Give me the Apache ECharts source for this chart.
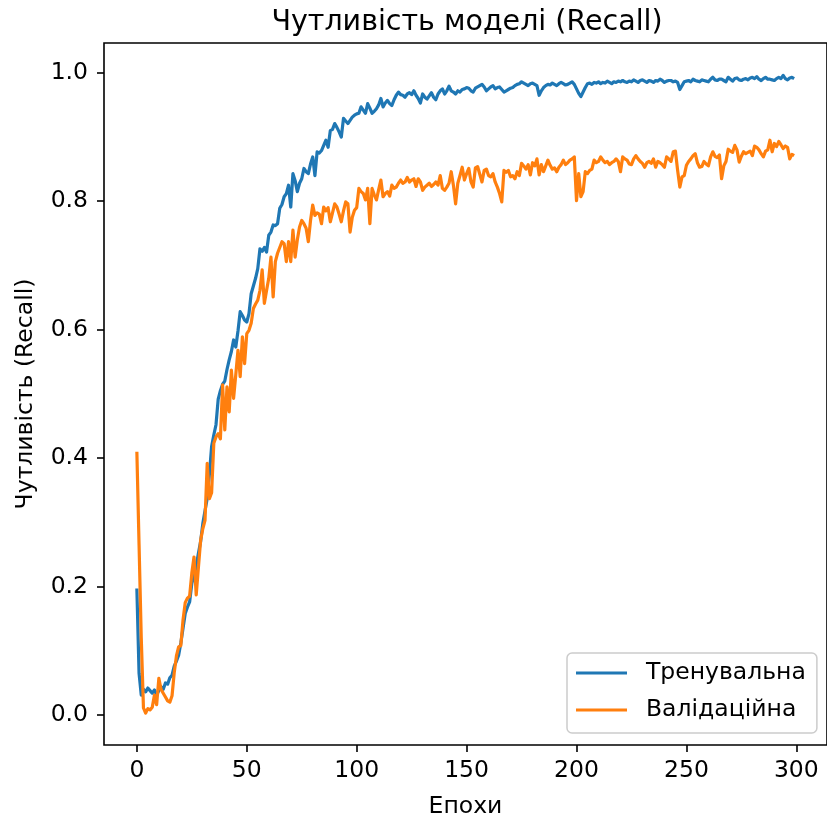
<!DOCTYPE html>
<html>
<head>
<meta charset="utf-8">
<script src="https://cdn.jsdelivr.net/npm/echarts@6/dist/echarts.min.js"></script>
<style>
  html, body { margin: 0; padding: 0; background: #fff; }
  #chart { width: 827px; height: 825px; }
</style>
</head>
<body>
<div id="chart"></div>
<script>
// Recall per epoch, training set
const trainRecall = [
  0.197, 0.065, 0.031, 0.040, 0.036, 0.042, 0.038, 0.034, 0.039, 0.031,
  0.038, 0.044, 0.040, 0.050, 0.048, 0.058, 0.062, 0.076, 0.084, 0.093,
  0.112, 0.135, 0.158, 0.168, 0.176, 0.205, 0.218, 0.232, 0.252, 0.270,
  0.298, 0.318, 0.337, 0.375, 0.418, 0.436, 0.452, 0.492, 0.505, 0.515,
  0.520, 0.538, 0.553, 0.566, 0.584, 0.573, 0.598, 0.628, 0.622, 0.615,
  0.612, 0.625, 0.656, 0.668, 0.680, 0.695, 0.726, 0.722, 0.728, 0.721,
  0.747, 0.752, 0.763, 0.762, 0.765, 0.789, 0.795, 0.807, 0.812, 0.825,
  0.791, 0.843, 0.832, 0.815, 0.828, 0.835, 0.851, 0.846, 0.843, 0.858,
  0.869, 0.840, 0.877, 0.875, 0.879, 0.887, 0.895, 0.884, 0.910, 0.912,
  0.921, 0.915, 0.908, 0.900, 0.929, 0.925, 0.921, 0.926, 0.931, 0.934,
  0.936, 0.937, 0.947, 0.942, 0.937, 0.952, 0.945, 0.937, 0.940, 0.944,
  0.950, 0.960, 0.947, 0.953, 0.957, 0.952, 0.949, 0.958, 0.965, 0.970,
  0.966, 0.965, 0.962, 0.967, 0.969, 0.966, 0.972, 0.965, 0.960, 0.953,
  0.967, 0.962, 0.959, 0.964, 0.969, 0.962, 0.958, 0.967, 0.972, 0.975,
  0.967, 0.972, 0.979, 0.972, 0.970, 0.967, 0.972, 0.970, 0.974, 0.975,
  0.977, 0.976, 0.972, 0.970, 0.976, 0.978, 0.980, 0.982, 0.978, 0.972,
  0.975, 0.978, 0.980, 0.975, 0.977, 0.978, 0.974, 0.970, 0.972, 0.974,
  0.976, 0.977, 0.980, 0.982, 0.983, 0.986, 0.984, 0.982, 0.980, 0.983,
  0.984, 0.982, 0.980, 0.965, 0.972, 0.977, 0.980, 0.982, 0.981, 0.984,
  0.982, 0.980, 0.983, 0.985, 0.983, 0.981, 0.982, 0.984, 0.986, 0.982,
  0.975, 0.968, 0.963, 0.970, 0.977, 0.983, 0.984, 0.982, 0.985, 0.984,
  0.986, 0.983, 0.985, 0.984, 0.987, 0.985, 0.983, 0.986, 0.985, 0.987,
  0.986, 0.988, 0.986, 0.985, 0.987, 0.986, 0.989, 0.987, 0.985, 0.988,
  0.989, 0.987, 0.985, 0.988, 0.987, 0.985, 0.988, 0.987, 0.990, 0.988,
  0.985, 0.987, 0.988, 0.988, 0.986, 0.987, 0.985, 0.974, 0.980, 0.986,
  0.987, 0.988, 0.986, 0.990, 0.988, 0.987, 0.986, 0.989, 0.988, 0.987,
  0.986, 0.990, 0.993, 0.989, 0.988, 0.990, 0.990, 0.988, 0.986, 0.993,
  0.990, 0.987, 0.991, 0.992, 0.989, 0.988, 0.990, 0.991, 0.989, 0.992,
  0.993, 0.991, 0.994, 0.990, 0.988, 0.991, 0.993, 0.990, 0.990, 0.989,
  0.988, 0.991, 0.993, 0.991, 0.996, 0.991, 0.989, 0.992, 0.993, 0.991
];

// Recall per epoch, validation set
const valRecall = [
  0.410, 0.265, 0.120, 0.011, 0.003, 0.010, 0.008, 0.012, 0.031, 0.016,
  0.057, 0.040, 0.034, 0.028, 0.022, 0.020, 0.030, 0.066, 0.092, 0.106,
  0.108, 0.148, 0.175, 0.182, 0.185, 0.221, 0.246, 0.187, 0.230, 0.272,
  0.290, 0.303, 0.392, 0.337, 0.346, 0.423, 0.433, 0.438, 0.430, 0.514,
  0.444, 0.511, 0.472, 0.537, 0.493, 0.530, 0.568, 0.527, 0.589, 0.547,
  0.594, 0.599, 0.610, 0.633, 0.640, 0.646, 0.661, 0.693, 0.641, 0.661,
  0.680, 0.713, 0.651, 0.706, 0.719, 0.728, 0.737, 0.734, 0.706, 0.737,
  0.706, 0.755, 0.713, 0.740, 0.760, 0.770, 0.765, 0.758, 0.737, 0.770,
  0.794, 0.778, 0.782, 0.780, 0.765, 0.791, 0.785, 0.790, 0.768, 0.782,
  0.796, 0.791, 0.780, 0.768, 0.785, 0.799, 0.796, 0.752, 0.775, 0.786,
  0.790, 0.820, 0.815, 0.812, 0.802, 0.820, 0.765, 0.820, 0.810, 0.802,
  0.818, 0.833, 0.807, 0.812, 0.815, 0.808, 0.825, 0.820, 0.822, 0.828,
  0.833, 0.828, 0.830, 0.837, 0.830, 0.833, 0.835, 0.823, 0.835, 0.830,
  0.817, 0.822, 0.825, 0.828, 0.823, 0.826, 0.830, 0.825, 0.840, 0.820,
  0.817, 0.822, 0.828, 0.846, 0.825, 0.796, 0.828, 0.840, 0.853, 0.833,
  0.843, 0.851, 0.830, 0.822, 0.852, 0.854, 0.842, 0.830, 0.848, 0.850,
  0.840, 0.838, 0.843, 0.830, 0.822, 0.812, 0.799, 0.848, 0.845, 0.848,
  0.838, 0.840, 0.835, 0.846, 0.840, 0.859, 0.855, 0.850, 0.857, 0.841,
  0.860, 0.855, 0.866, 0.841, 0.857, 0.846, 0.855, 0.864, 0.856, 0.850,
  0.852, 0.846, 0.853, 0.857, 0.864, 0.857, 0.860, 0.864, 0.866, 0.869,
  0.801, 0.843, 0.807, 0.815, 0.846, 0.843, 0.848, 0.850, 0.864, 0.860,
  0.862, 0.869, 0.864, 0.860, 0.862, 0.857, 0.860, 0.862, 0.866, 0.862,
  0.846, 0.869, 0.866, 0.864, 0.858, 0.857, 0.866, 0.871, 0.866, 0.862,
  0.859, 0.853, 0.860, 0.862, 0.859, 0.866, 0.853, 0.862, 0.860, 0.857,
  0.853, 0.869, 0.866, 0.862, 0.877, 0.878, 0.848, 0.822, 0.838, 0.840,
  0.856, 0.862, 0.866, 0.871, 0.874, 0.860, 0.853, 0.854, 0.862, 0.858,
  0.855, 0.869, 0.877, 0.870, 0.868, 0.872, 0.835, 0.855, 0.862, 0.881,
  0.878, 0.876, 0.887, 0.880, 0.861, 0.870, 0.877, 0.874, 0.876, 0.878,
  0.871, 0.886, 0.884, 0.880, 0.874, 0.869, 0.878, 0.880, 0.895, 0.877,
  0.890, 0.885, 0.893, 0.888, 0.882, 0.886, 0.884, 0.866, 0.873, 0.871
];

const seriesNames = ['Тренувальна', 'Валідаційна'];
const seriesColors = ['#1f77b4', '#ff7f0e'];
const xTicks = [0, 50, 100, 150, 200, 250, 300];
const yTicks = [0.0, 0.2, 0.4, 0.6, 0.8, 1.0];

const titleText = 'Чутливість моделі (Recall)';
const xAxisTitle = 'Епохи';
const yAxisTitle = 'Чутливість (Recall)';

const FONT = 'DejaVu Sans';
const LABEL_SIZE = 23.5;

const toPairs = arr => arr.map((v, i) => [i, v]);

const chart = echarts.init(document.getElementById('chart'), null, { renderer: 'canvas' });

chart.setOption({
  animation: false,
  backgroundColor: '#ffffff',
  textStyle: { fontFamily: FONT },
  title: {
    text: titleText,
    left: 462,
    top: 3,
    textAlign: 'center',
    textStyle: { fontFamily: FONT, fontSize: 28.5, fontWeight: 'normal', color: '#000' }
  },
  grid: {
    show: true,
    left: 104,
    top: 43,
    width: 725,
    height: 702,
    borderColor: '#000',
    borderWidth: 1.6,
    backgroundColor: 'transparent',
    containLabel: false
  },
  legend: {
    orient: 'vertical',
    left: 567,
    top: 653,
    data: seriesNames,
    icon: 'rect',
    itemWidth: 51,
    itemHeight: 3,
    itemGap: 9,
    padding: [6, 11, 9, 9],
    borderColor: '#cccccc',
    borderWidth: 1.5,
    borderRadius: 5,
    backgroundColor: 'rgba(255,255,255,0.8)',
    textStyle: {
      fontFamily: FONT,
      fontSize: LABEL_SIZE,
      color: '#000',
      lineHeight: 28,
      padding: [0, 0, 0, 14]
    }
  },
  xAxis: {
    type: 'value',
    min: -14.95,
    max: 313.95,
    name: xAxisTitle,
    nameLocation: 'middle',
    nameGap: 50,
    nameTextStyle: { fontFamily: FONT, fontSize: LABEL_SIZE, color: '#000' },
    axisLine: { show: false, onZero: false },
    splitLine: { show: false },
    axisTick: {
      show: true,
      length: 7,
      lineStyle: { color: '#000', width: 1.6 },
      customValues: xTicks
    },
    axisLabel: {
      fontFamily: FONT,
      fontSize: LABEL_SIZE,
      color: '#000',
      margin: 14,
      customValues: xTicks,
      formatter: v => String(v)
    }
  },
  yAxis: {
    type: 'value',
    min: -0.0467,
    max: 1.0464,
    name: yAxisTitle,
    nameLocation: 'middle',
    nameGap: 66,
    nameRotate: 90,
    nameTextStyle: { fontFamily: FONT, fontSize: LABEL_SIZE, color: '#000' },
    axisLine: { show: false, onZero: false },
    splitLine: { show: false },
    axisTick: {
      show: true,
      length: 7,
      lineStyle: { color: '#000', width: 1.6 },
      customValues: yTicks
    },
    axisLabel: {
      fontFamily: FONT,
      fontSize: LABEL_SIZE,
      color: '#000',
      margin: 16,
      customValues: yTicks,
      formatter: v => v.toFixed(1)
    }
  },
  series: [
    {
      name: seriesNames[0],
      type: 'line',
      data: toPairs(trainRecall),
      showSymbol: false,
      symbol: 'none',
      color: seriesColors[0],
      lineStyle: { width: 3.2, color: seriesColors[0], join: 'round' },
      z: 2
    },
    {
      name: seriesNames[1],
      type: 'line',
      data: toPairs(valRecall),
      showSymbol: false,
      symbol: 'none',
      color: seriesColors[1],
      lineStyle: { width: 3.2, color: seriesColors[1], join: 'round' },
      z: 3
    }
  ]
});
</script>
</body>
</html>
